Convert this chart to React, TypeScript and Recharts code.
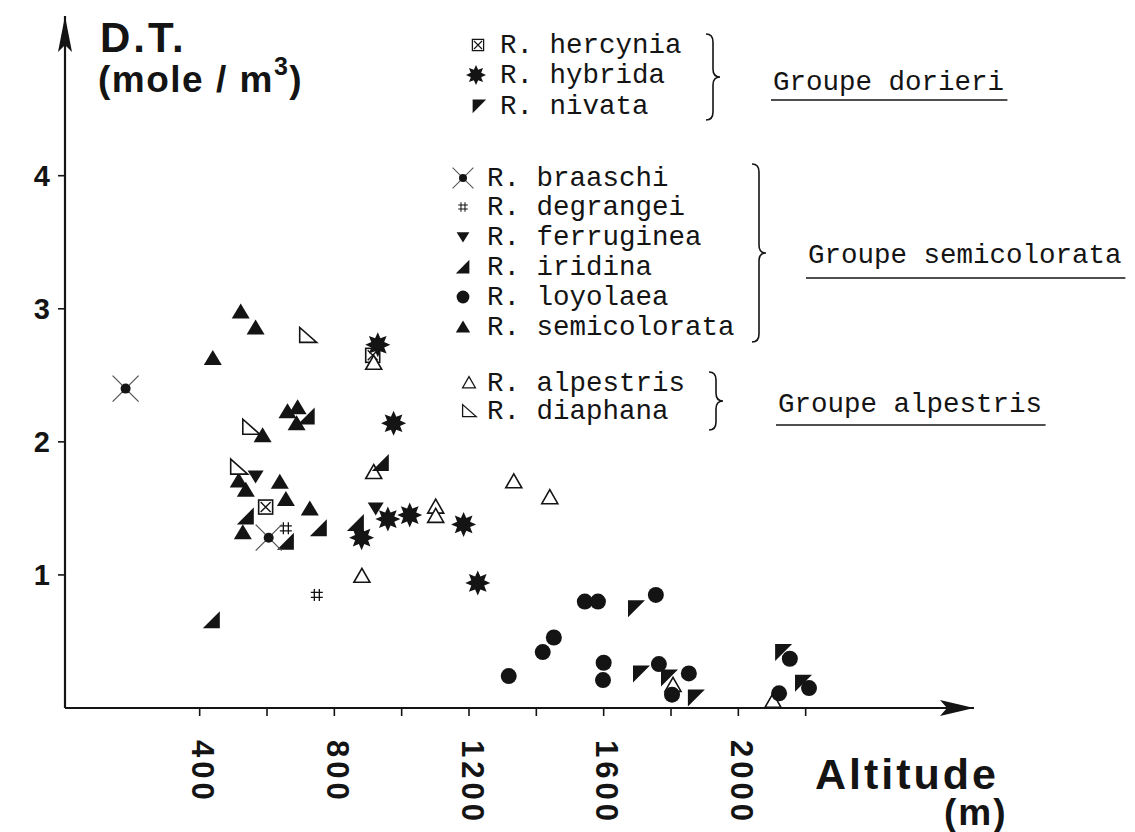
import React from 'react'
import { ScatterChart, Scatter, XAxis, YAxis, ReferenceDot } from 'recharts'

type Pt = { x: number; y: number }

// altitude (m) / D.T. (mole/m3)
const hercynia: Pt[] = [
  { x: 596, y: 1.51 },
  { x: 914, y: 2.65 },
]
const hybrida: Pt[] = [
  { x: 929, y: 2.73 },
  { x: 976, y: 2.14 },
  { x: 881, y: 1.28 },
  { x: 959, y: 1.42 },
  { x: 1024, y: 1.45 },
  { x: 1184, y: 1.38 },
  { x: 1226, y: 0.94 },
]
const nivata: Pt[] = [
  { x: 1696, y: 0.75 },
  { x: 1711, y: 0.26 },
  { x: 1794, y: 0.23 },
  { x: 1874, y: 0.08 },
  { x: 2133, y: 0.42 },
  { x: 2192, y: 0.19 },
]
const braaschi: Pt[] = [
  { x: 180, y: 2.4 },
  { x: 605, y: 1.28 },
]
const degrangei: Pt[] = [
  { x: 656, y: 1.35 },
  { x: 748, y: 0.85 },
]
const ferruginea: Pt[] = [
  { x: 566, y: 1.74 },
  { x: 923, y: 1.5 },
]
const iridina: Pt[] = [
  { x: 537, y: 1.44 },
  { x: 656, y: 1.25 },
  { x: 754, y: 1.35 },
  { x: 864, y: 1.39 },
  { x: 938, y: 1.84 },
  { x: 436, y: 0.66 },
  { x: 718, y: 2.19 },
]
const loyolaea: Pt[] = [
  { x: 1318, y: 0.24 },
  { x: 1419, y: 0.42 },
  { x: 1452, y: 0.53 },
  { x: 1544, y: 0.8 },
  { x: 1583, y: 0.8 },
  { x: 1600, y: 0.34 },
  { x: 1598, y: 0.21 },
  { x: 1755, y: 0.85 },
  { x: 1764, y: 0.33 },
  { x: 1803, y: 0.1 },
  { x: 1853, y: 0.26 },
  { x: 2121, y: 0.11 },
  { x: 2153, y: 0.37 },
  { x: 2210, y: 0.15 },
]
const semicolorata: Pt[] = [
  { x: 439, y: 2.63 },
  { x: 522, y: 2.98 },
  { x: 566, y: 2.86 },
  { x: 661, y: 2.23 },
  { x: 691, y: 2.26 },
  { x: 688, y: 2.14 },
  { x: 587, y: 2.05 },
  { x: 516, y: 1.71 },
  { x: 537, y: 1.64 },
  { x: 638, y: 1.7 },
  { x: 656, y: 1.57 },
  { x: 727, y: 1.5 },
  { x: 528, y: 1.32 },
]
const alpestris: Pt[] = [
  { x: 917, y: 2.59 },
  { x: 917, y: 1.77 },
  { x: 882, y: 0.99 },
  { x: 1101, y: 1.51 },
  { x: 1101, y: 1.44 },
  { x: 1333, y: 1.7 },
  { x: 1440, y: 1.58 },
  { x: 1806, y: 0.17 },
  { x: 2103, y: 0.05 },
]
const diaphana: Pt[] = [
  { x: 721, y: 2.8 },
  { x: 552, y: 2.11 },
  { x: 516, y: 1.81 },
]

const xTicks = [400, 600, 800, 1000, 1200, 1400, 1600, 1800, 2000, 2200]
const yTicks = [1, 2, 3, 4]

const INK = '#141414'
const SANS = '"Liberation Sans", Arial, sans-serif'
const MONO = '"Liberation Mono", "DejaVu Sans Mono", monospace'

const poly = (pts: number[][]) => 'M' + pts.map((p) => p[0].toFixed(1) + ',' + p[1].toFixed(1)).join('L') + 'Z'

const starPath = (cx: number, cy: number, n: number, ro: number, ri: number) => {
  const pts: number[][] = []
  for (let i = 0; i < n * 2; i++) {
    const r = i % 2 ? ri : ro
    const a = (Math.PI * i) / n - Math.PI / 2
    pts.push([cx + r * Math.cos(a), cy + r * Math.sin(a)])
  }
  return poly(pts)
}

// marker shapes
const Hercynia = ({ cx, cy }: any) => (
  <g>
    <rect x={cx - 7} y={cy - 7} width={14} height={14} fill="#fff" stroke={INK} strokeWidth={1.6} />
    <path d={`M${cx - 5},${cy - 5}L${cx + 5},${cy + 5}M${cx + 5},${cy - 5}L${cx - 5},${cy + 5}`} stroke={INK} strokeWidth={1.4} />
  </g>
)
const Hybrida = ({ cx, cy }: any) => <path d={starPath(cx, cy, 8, 12.5, 7)} fill={INK} />
const Nivata = ({ cx, cy }: any) => <path d={poly([[cx - 8, cy - 8], [cx + 9, cy - 8], [cx - 8, cy + 9]])} fill={INK} />
const Braaschi = ({ cx, cy }: any) => (
  <g>
    <path d={`M${cx - 13},${cy - 13}L${cx + 13},${cy + 13}M${cx + 13},${cy - 13}L${cx - 13},${cy + 13}`} stroke="#555" strokeWidth={1.3} />
    <circle cx={cx} cy={cy} r={5} fill={INK} />
  </g>
)
const Degrangei = ({ cx, cy }: any) => (
  <path
    d={`M${cx - 2.5},${cy - 6}L${cx - 2.5},${cy + 6}M${cx + 2.5},${cy - 6}L${cx + 2.5},${cy + 6}M${cx - 6},${cy - 2.5}L${cx + 6},${cy - 2.5}M${cx - 6},${cy + 2.5}L${cx + 6},${cy + 2.5}`}
    stroke={INK}
    strokeWidth={1.3}
  />
)
const Ferruginea = ({ cx, cy }: any) => <path d={poly([[cx - 8, cy - 6], [cx + 8, cy - 6], [cx, cy + 7]])} fill={INK} />
const Iridina = ({ cx, cy }: any) => <path d={poly([[cx + 8, cy - 9], [cx + 8, cy + 8], [cx - 9, cy + 8]])} fill={INK} />
const Loyolaea = ({ cx, cy }: any) => <circle cx={cx} cy={cy} r={8} fill={INK} />
const Semicolorata = ({ cx, cy }: any) => <path d={poly([[cx, cy - 8], [cx + 9, cy + 7], [cx - 9, cy + 7]])} fill={INK} />
const Alpestris = ({ cx, cy }: any) => (
  <path d={poly([[cx, cy - 8], [cx + 8, cy + 6], [cx - 8, cy + 6]])} fill="#fff" stroke={INK} strokeWidth={1.6} />
)
const Diaphana = ({ cx, cy }: any) => (
  <path d={poly([[cx - 8, cy - 8], [cx - 8, cy + 7], [cx + 9, cy + 7]])} fill="#fff" stroke={INK} strokeWidth={1.6} />
)

const XTick = ({ x, y, payload }: any) =>
  payload.value % 400 ? null : (
    <text
      transform={`translate(${x + 3}, ${y + 22}) rotate(90)`}
      fontFamily={SANS}
      fontWeight="bold"
      fontSize={31}
      letterSpacing={4}
      dominantBaseline="central"
      fill={INK}
    >
      {payload.value}
    </text>
  )

const YTick = ({ x, y, payload }: any) => (
  <text x={x - 6} y={y} textAnchor="end" dominantBaseline="central" fontFamily={SANS} fontWeight="bold" fontSize={29} fill={INK}>
    {payload.value}
  </text>
)

const XArrow = ({ cx, cy }: any) => <path d={poly([[cx, cy], [cx - 34, cy - 8], [cx - 27, cy], [cx - 34, cy + 8]])} fill={INK} />
const YArrow = ({ cx, cy }: any) => <path d={poly([[cx, cy], [cx + 7, cy + 36], [cx, cy + 29], [cx - 7, cy + 36]])} fill={INK} />

const brace = (x: number, top: number, bottom: number, w: number) => {
  const mid = (top + bottom) / 2
  const h = x + w / 2
  const r = 8
  return `M${x},${top} Q${h},${top} ${h},${top + r} L${h},${mid - r} Q${h},${mid} ${x + w},${mid} Q${h},${mid} ${h},${mid + r} L${h},${bottom - r} Q${h},${bottom} ${x},${bottom}`
}

const legendRows = [
  { label: 'R. hercynia', Shape: Hercynia, sx: 478, tx: 500, cy: 45 },
  { label: 'R. hybrida', Shape: Hybrida, sx: 476, tx: 500, cy: 75 },
  { label: 'R. nivata', Shape: Nivata, sx: 479, tx: 500, cy: 106 },
  { label: 'R. braaschi', Shape: Braaschi, sx: 463, tx: 487, cy: 178 },
  { label: 'R. degrangei', Shape: Degrangei, sx: 463, tx: 487, cy: 207 },
  { label: 'R. ferruginea', Shape: Ferruginea, sx: 463, tx: 487, cy: 237 },
  { label: 'R. iridina', Shape: Iridina, sx: 463, tx: 487, cy: 267 },
  { label: 'R. loyolaea', Shape: Loyolaea, sx: 463, tx: 487, cy: 297 },
  { label: 'R. semicolorata', Shape: Semicolorata, sx: 463, tx: 487, cy: 327 },
  { label: 'R. alpestris', Shape: Alpestris, sx: 469, tx: 487, cy: 383 },
  { label: 'R. diaphana', Shape: Diaphana, sx: 469, tx: 487, cy: 411 },
]

const groups = [
  { label: 'Groupe dorieri', x: 773, base: 90, ul: 100, braceX: 706, top: 34, bottom: 120 },
  { label: 'Groupe semicolorata', x: 808, base: 263, ul: 278, braceX: 752, top: 164, bottom: 342 },
  { label: 'Groupe alpestris', x: 778, base: 412, ul: 425, braceX: 709, top: 372, bottom: 430 },
]

const series = [
  { data: hercynia, shape: Hercynia },
  { data: semicolorata, shape: Semicolorata },
  { data: diaphana, shape: Diaphana },
  { data: alpestris, shape: Alpestris },
  { data: iridina, shape: Iridina },
  { data: ferruginea, shape: Ferruginea },
  { data: degrangei, shape: Degrangei },
  { data: braaschi, shape: Braaschi },
  { data: hybrida, shape: Hybrida },
  { data: loyolaea, shape: Loyolaea },
  { data: nivata, shape: Nivata },
]

export default function App() {
  return (
    <div style={{ position: 'absolute', left: 0, top: 0, width: 1135, height: 832, background: '#fff' }}>
      <ScatterChart width={1135} height={832} margin={{ top: 16, right: 161, bottom: 24, left: 5 }}>
        <XAxis
          type="number"
          dataKey="x"
          domain={[0, 2700]}
          ticks={xTicks}
          tick={<XTick />}
          tickSize={8}
          height={100}
          axisLine={{ stroke: INK, strokeWidth: 2.2 }}
          tickLine={{ stroke: INK, strokeWidth: 1.6 }}
          allowDataOverflow
        />
        <YAxis
          type="number"
          dataKey="y"
          domain={[0, 5.2]}
          ticks={yTicks}
          tick={<YTick />}
          tickSize={7}
          width={60}
          axisLine={{ stroke: INK, strokeWidth: 2.2 }}
          tickLine={{ stroke: INK, strokeWidth: 1.6 }}
          allowDataOverflow
        />
        {series.map((s, i) => (
          <Scatter key={i} data={s.data} shape={s.shape} isAnimationActive={false} />
        ))}
        <ReferenceDot x={2700} y={0} r={0} shape={<XArrow />} ifOverflow="visible" />
        <ReferenceDot x={0} y={5.2} r={0} shape={<YArrow />} ifOverflow="visible" />
      </ScatterChart>

      <svg width={1135} height={832} style={{ position: 'absolute', left: 0, top: 0, pointerEvents: 'none' }}>
        <text x={100} y={52} fontFamily={SANS} fontWeight="bold" fontSize={42} letterSpacing={3} fill={INK}>
          D.T.
        </text>
        <text x={98} y={92} fontFamily={SANS} fontWeight="bold" fontSize={37} letterSpacing={1.5} fill={INK}>
          <tspan>(mole / m</tspan>
          <tspan dy={-17} fontSize={25}>3</tspan>
          <tspan dy={17}>)</tspan>
        </text>
        <text x={815} y={789} fontFamily={SANS} fontWeight="bold" fontSize={43} letterSpacing={3} fill={INK}>
          Altitude
        </text>
        <text x={944} y={825} fontFamily={SANS} fontWeight="bold" fontSize={37} letterSpacing={2} fill={INK}>
          (m)
        </text>

        {legendRows.map(({ label, Shape, sx, tx, cy }) => (
          <g key={label}>
            <g transform={`translate(${sx}, ${cy}) scale(0.8)`}>
              <Shape cx={0} cy={0} />
            </g>
            <text x={tx} y={cy + 8} fontFamily={MONO} fontSize={27.5} fill={INK}>
              {label}
            </text>
          </g>
        ))}

        {groups.map((g) => (
          <g key={g.label}>
            <path d={brace(g.braceX, g.top, g.bottom, 14)} fill="none" stroke={INK} strokeWidth={1.6} />
            <text x={g.x} y={g.base} fontFamily={MONO} fontSize={27.5} fill={INK}>
              {g.label}
            </text>
            <line x1={g.x - 2} x2={g.x + g.label.length * 16.6 + 2} y1={g.ul} y2={g.ul} stroke={INK} strokeWidth={1.6} />
          </g>
        ))}
      </svg>
    </div>
  )
}
